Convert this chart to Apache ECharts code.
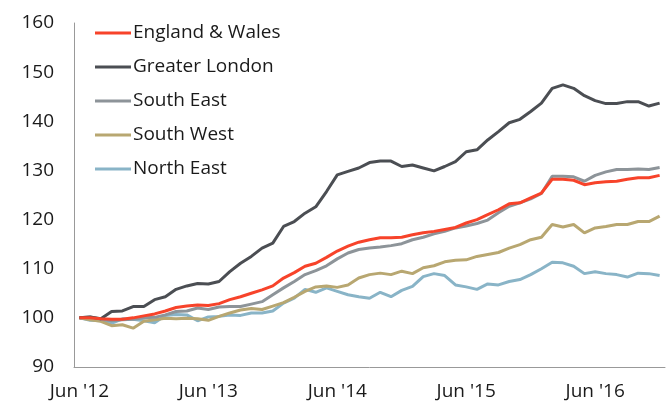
<!DOCTYPE html>
<html>
<head>
<meta charset="utf-8">
<script src="https://cdn.jsdelivr.net/npm/echarts@6/dist/echarts.min.js"></script>
<style>
  html, body { margin: 0; padding: 0; background: #fff; }
  #chart { width: 670px; height: 404px; }
</style>
</head>
<body>
<div id="chart"></div>
<script>
  // monthly index, Jun 2012 = 100, Jun '12 .. Dec '16
  const monthNames = ['Jun', 'Jul', 'Aug', 'Sep', 'Oct', 'Nov', 'Dec', 'Jan', 'Feb', 'Mar', 'Apr', 'May'];
  const categories = [];
  for (let i = 0; i < 55; i++) {
    const yr = 12 + Math.floor((i + 5) / 12);
    categories.push(monthNames[i % 12] + " '" + yr);
  }

  const englandWales = [100, 100, 99.8, 99.7, 99.7, 100, 100.4, 100.8, 101.4, 102.1, 102.4, 102.6,
    102.5, 102.9, 103.7, 104.3, 105.0, 105.7, 106.5, 108.1, 109.2, 110.5, 111.1, 112.3,
    113.6, 114.6, 115.4, 115.9, 116.3, 116.3, 116.4, 116.9, 117.3, 117.6, 118.0, 118.4,
    119.3, 120.0, 121.0, 122.0, 123.2, 123.4, 124.4, 125.4, 128.2, 128.2, 128.0, 127.1,
    127.5, 127.7, 127.8, 128.2, 128.5, 128.5, 129.0];

  const greaterLondon = [100, 100.2, 99.8, 101.3, 101.4, 102.3, 102.3, 103.7, 104.3, 105.8, 106.5, 107.0,
    106.9, 107.4, 109.4, 111.1, 112.5, 114.2, 115.2, 118.6, 119.6, 121.3, 122.6, 125.7,
    129.1, 129.8, 130.5, 131.6, 131.9, 131.9, 130.8, 131.1, 130.5, 129.9, 130.8, 131.8,
    133.8, 134.2, 136.2, 137.9, 139.7, 140.4, 142.0, 143.7, 146.7, 147.4, 146.7, 145.2,
    144.2, 143.6, 143.6, 144.0, 144.0, 143.1, 143.7];

  const southEast = [100, 100.2, 99.7, 99.4, 99.6, 99.7, 100, 100.1, 100.6, 101.3, 101.4, 102,
    101.7, 102.2, 102.3, 102.3, 102.8, 103.3, 104.7, 106.1, 107.4, 108.8, 109.6, 110.6,
    112, 113.2, 113.9, 114.2, 114.4, 114.7, 115.1, 115.9, 116.4, 117.1, 117.6, 118.3,
    118.7, 119.2, 119.9, 121.4, 122.7, 123.4, 124.2, 125.3, 128.8, 128.8, 128.7, 127.8,
    129, 129.7, 130.2, 130.2, 130.3, 130.2, 130.6];

  const southWest = [100, 99.6, 99.3, 98.4, 98.6, 97.9, 99.3, 99.6, 99.9, 99.8, 99.9, 99.8,
    99.5, 100.3, 101, 101.6, 101.9, 101.7, 102.4, 103.1, 104.2, 105.4, 106.3, 106.5,
    106.2, 106.7, 108.1, 108.8, 109.1, 108.8, 109.5, 109, 110.2, 110.6, 111.4, 111.7,
    111.8, 112.5, 112.9, 113.3, 114.2, 114.9, 115.9, 116.4, 119, 118.5, 119, 117.3,
    118.3, 118.6, 119, 119, 119.6, 119.6, 120.7];

  const northEast = [100, 99.5, 99.4, 98.9, 99.8, 99.7, 99.4, 99, 100.5, 100.7, 100.6, 99.4,
    100.2, 100.3, 100.6, 100.5, 101, 101, 101.4, 103, 104, 105.8, 105.2, 106.1,
    105.4, 104.7, 104.3, 104, 105.2, 104.3, 105.6, 106.4, 108.4, 109, 108.6, 106.7,
    106.3, 105.8, 106.9, 106.7, 107.4, 107.8, 108.8, 110, 111.3, 111.2, 110.5, 109,
    109.4, 109, 108.8, 108.3, 109.1, 109, 108.6];

  const seriesNames = ['England & Wales', 'Greater London', 'South East', 'South West', 'North East'];
  const seriesData = [englandWales, greaterLondon, southEast, southWest, northEast];
  const colors = ['#f7432a', '#4b4e53', '#8d9499', '#b8a771', '#89b4c7'];

  const font = '"Open Sans", "Noto Sans", sans-serif';

  const chart = echarts.init(document.getElementById('chart'), null, { renderer: 'canvas' });
  chart.setOption({
    animation: false,
    color: colors,
    grid: { left: 74, right: 5, top: 23, bottom: 37, containLabel: false },
    legend: {
      orient: 'vertical',
      left: 90,
      top: 17,
      itemWidth: 36,
      itemHeight: 3,
      itemGap: 12,
      icon: 'rect',
      textStyle: { fontFamily: font, fontSize: 19, color: '#1a1a1a', lineHeight: 22, padding: [0, 0, 0, -3] },
      data: seriesNames
    },
    xAxis: {
      type: 'category',
      data: categories,
      boundaryGap: true,
      axisLine: { lineStyle: { color: '#999', width: 1 } },
      axisTick: { interval: 11, length: 5, lineStyle: { color: '#999' } },
      axisLabel: {
        interval: 11,
        fontFamily: font,
        fontSize: 19,
        color: '#1a1a1a',
        margin: 15
      },
      splitLine: { show: false }
    },
    yAxis: {
      type: 'value',
      min: 90,
      max: 160,
      interval: 10,
      axisLine: { show: true, lineStyle: { color: '#999', width: 1 } },
      axisTick: { show: false },
      axisLabel: { fontFamily: font, fontSize: 19, color: '#1a1a1a', margin: 20 },
      splitLine: { show: false }
    },
    series: seriesNames.map((name, k) => ({
      name: name,
      type: 'line',
      data: seriesData[k],
      symbol: 'none',
      lineStyle: { width: 3, color: colors[k] },
      itemStyle: { color: colors[k] },
      z: 10 - k
    }))
  });
</script>
</body>
</html>
